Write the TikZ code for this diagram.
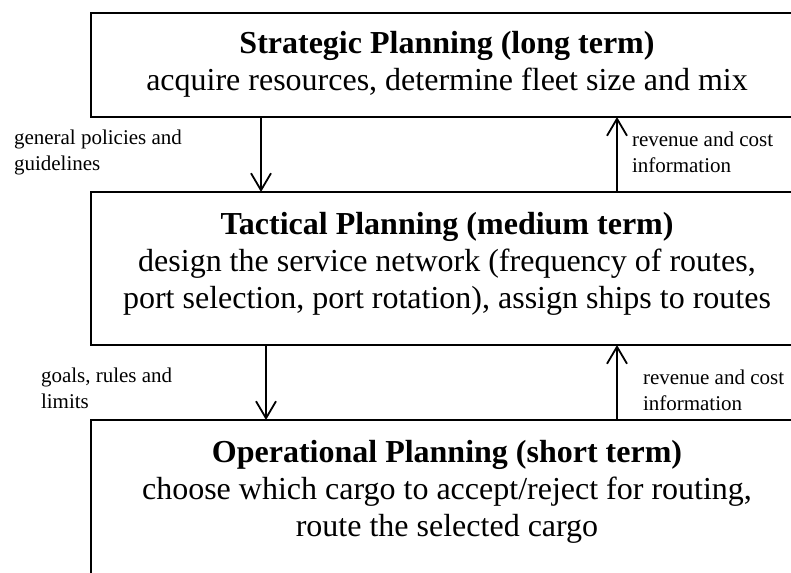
\documentclass[tikz,border=0pt]{standalone}
\usepackage{fontspec}
\setmainfont{Liberation Serif}
\usetikzlibrary{arrows.meta}

\newcommand{\plansize}{\fontsize{32}{37}\selectfont}
\newcommand{\flowsize}{\fontsize{21}{26}\selectfont}

\begin{document}
\begin{tikzpicture}[
		x=1pt, y=-1pt,
		every node/.style={inner sep=0pt, outer sep=0pt},
		plan_box/.style={rectangle, draw, line width=1.8pt, minimum width=712pt, anchor=north west},
		plan_text/.style={align=center, anchor=north, font=\plansize},
		flow_label/.style={align=left, anchor=north west, font=\flowsize},
		flow/.style={line width=1.8pt, -{Straight Barb[length=17pt, width=20pt, line width=1.8pt]}}
	]
  \useasboundingbox (0, 0) rectangle (791, 572);
  \clip (0, 0) rectangle (791, 572);
  \node (strat_box) [plan_box, minimum height=104pt] at (91, 13) {};
  \node (tact_box) [plan_box, minimum height=153pt] at (91, 192) {};
  \node (oper_box) [plan_box, minimum height=200pt] at (91, 420) {};
  \node (strat_text) [plan_text] at ([yshift=-18pt]strat_box.north) {\textbf{Strategic Planning (long term)}\\acquire resources, determine fleet size and mix};
  \node (tact_text) [plan_text] at ([yshift=-20pt]tact_box.north) {\textbf{Tactical Planning (medium term)}\\design the service network (frequency of routes,\\port selection, port rotation), assign ships to routes};
  \node (oper_text) [plan_text] at ([yshift=-20pt]oper_box.north) {\textbf{Operational Planning (short term)}\\choose which cargo to accept/reject for routing,\\route the selected cargo};
  \node (policies) [flow_label] at (14, 130) {general policies and\\guidelines};
  \node (revenue_1) [flow_label] at (632, 132) {revenue and cost\\information};
  \node (goals) [flow_label] at (41, 368) {goals, rules and\\limits};
  \node (revenue_2) [flow_label] at (643, 370) {revenue and cost\\information};
  \draw ([xshift=-186pt]strat_box.south) edge [flow] ([xshift=-186pt]tact_box.north);
  \draw ([xshift=170pt]tact_box.north) edge [flow] ([xshift=170pt]strat_box.south);
  \draw ([xshift=-181pt]tact_box.south) edge [flow] ([xshift=-181pt]oper_box.north);
  \draw ([xshift=170pt]oper_box.north) edge [flow] ([xshift=170pt]tact_box.south);
\end{tikzpicture}
\end{document}
